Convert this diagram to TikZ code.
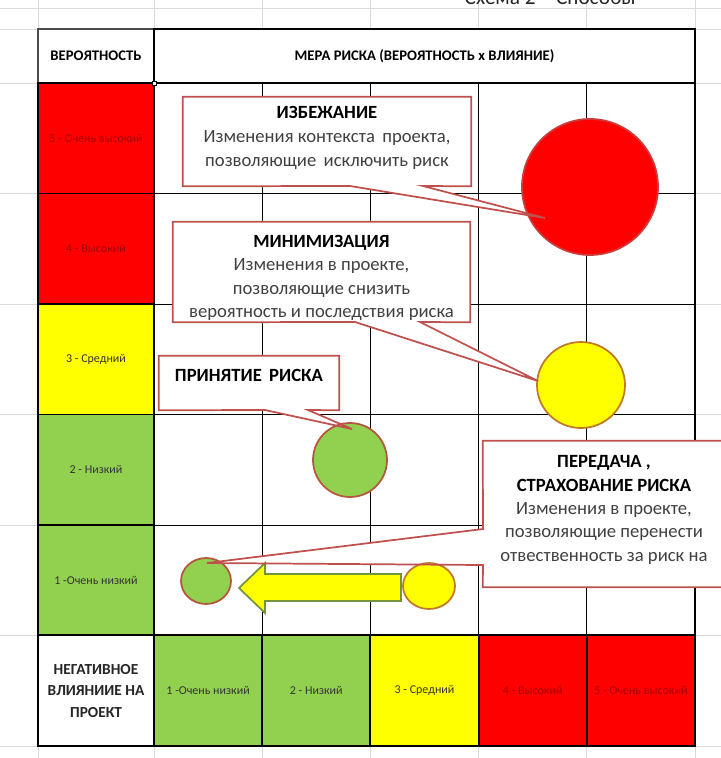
\documentclass[tikz,border=0pt]{standalone}
\usepackage{fontspec}
\setmainfont{Carlito}
\usetikzlibrary{shapes.geometric}

\definecolor{riskRed}{RGB}{255,0,0}
\definecolor{riskYellow}{RGB}{255,255,0}
\definecolor{riskGreen}{RGB}{146,208,80}
\definecolor{redText}{RGB}{165,0,0}
\definecolor{calloutEdge}{RGB}{192,80,77}
\definecolor{xlGray}{RGB}{218,218,218}
\definecolor{arrowEdge}{RGB}{118,146,60}
\definecolor{dotRedEdge}{RGB}{205,60,60}
\definecolor{dotYellowEdge}{RGB}{190,120,40}
\definecolor{dotGreenEdge}{RGB}{180,85,60}

\begin{document}
\begin{tikzpicture}[x=0.75pt,y=0.75pt,yscale=-1,xscale=1,
  xlline/.style={color=xlGray, line width=0.75},
  gridline/.style={color=black, line width=0.75},
  levelcell/.style={draw=black, line width=1.2, inner sep=0pt, minimum width=81.15pt, minimum height=82.9pt, align=center, font=\fontsize{9}{11}\selectfont, text=black!80},
  probcell/.style={levelcell, minimum width=87pt},
  headcell/.style={draw=black, inner sep=0pt, minimum height=40.5pt, align=center, font=\bfseries\fontsize{11}{13}\selectfont},
  callbox/.style={fill=white, inner sep=0pt},
  calltext/.style={align=center, text=black!75, font=\fontsize{14}{17.5}\selectfont},
  callline/.style={draw=calloutEdge, line width=1.3, line join=miter},
  riskdot/.style={ellipse, line width=1.3, inner sep=0pt},
]
\useasboundingbox (0,0) rectangle (721,758);
\fill[white] (0,0) rectangle (721,758);

%Straight Lines: sheet grid
\draw[xlline] (0,8) -- (721,8);
\draw[xlline] (38,0) -- (38,29);
\draw[xlline] (154,0) -- (154,29);
\draw[xlline] (262.2,0) -- (262.2,29);
\draw[xlline] (370.4,0) -- (370.4,29);
\draw[xlline] (478.6,0) -- (478.6,29);
\draw[xlline] (586.8,0) -- (586.8,29);
\draw[xlline] (695,0) -- (695,29);
\draw[xlline] (695,29) -- (721,29);
\draw[xlline] (695,83) -- (721,83);
\draw[xlline] (695,193.5) -- (721,193.5);
\draw[xlline] (695,304) -- (721,304);
\draw[xlline] (695,414.5) -- (721,414.5);
\draw[xlline] (695,525) -- (721,525);
\draw[xlline] (695,635.5) -- (721,635.5);
\draw[xlline] (695,746) -- (721,746);
\draw[xlline] (0,29) -- (38,29);
\draw[xlline] (0,83) -- (38,83);
\draw[xlline] (0,193.5) -- (38,193.5);
\draw[xlline] (0,304) -- (38,304);
\draw[xlline] (0,414.5) -- (38,414.5);
\draw[xlline] (0,525) -- (38,525);
\draw[xlline] (0,635.5) -- (38,635.5);
\draw[xlline] (0,746) -- (38,746);
\draw[xlline] (38,746) -- (38,758);
\draw[xlline] (154,746) -- (154,758);
\draw[xlline] (262.2,746) -- (262.2,758);
\draw[xlline] (370.4,746) -- (370.4,758);
\draw[xlline] (478.6,746) -- (478.6,758);
\draw[xlline] (586.8,746) -- (586.8,758);
\draw[xlline] (695,746) -- (695,758);

% Text Node: cut title
\node[anchor=base west, font=\fontsize{16}{18}\selectfont, text=black!85] (schemeTitle) at (460,4) {Схема 2 – Способы};

%Straight Lines: matrix grid
\draw[gridline] (262.2,83) -- (262.2,635.5);
\draw[gridline] (370.4,83) -- (370.4,635.5);
\draw[gridline] (478.6,83) -- (478.6,635.5);
\draw[gridline] (586.8,83) -- (586.8,635.5);
\draw[gridline] (154,193.5) -- (695,193.5);
\draw[gridline] (154,304) -- (695,304);
\draw[gridline] (154,414.5) -- (695,414.5);
\draw[gridline] (154,525) -- (695,525);

% Text Node
\node[headcell, minimum width=87pt, draw=black!70, line width=0.9] (probHead) at (96,56) {ВЕРОЯТНОСТЬ};
% Text Node
\node[headcell, minimum width=405.75pt, line width=1.5] (measureHead) at (424.5,56) {МЕРА РИСКА (ВЕРОЯТНОСТЬ x ВЛИЯНИЕ)};

% Text Node
\node[probcell, fill=riskRed, text=redText] (prob5) at (96,138.25) {5 - Очень высокий};
% Text Node
\node[probcell, fill=riskRed, text=redText] (prob4) at (96,248.75) {4 - Высокий};
% Text Node
\node[probcell, fill=riskYellow] (prob3) at (96,359.25) {3 - Средний};
% Text Node
\node[probcell, fill=riskGreen] (prob2) at (96,469.75) {2 - Низкий};
% Text Node
\node[probcell, fill=riskGreen] (prob1) at (96,580.25) {1 -Очень низкий};

% Text Node
\node[probcell, fill=white, line width=1.5, text=black!85, font=\bfseries\fontsize{11.5}{16}\selectfont] (impactHead) at (96,690.75) {НЕГАТИВНОЕ\\ВЛИЯНИИЕ НА\\ПРОЕКТ};
% Text Node
\node[levelcell, line width=1.5, fill=riskGreen] (impact1) at (208.1,690.75) {1 -Очень низкий};
% Text Node
\node[levelcell, line width=1.5, fill=riskGreen] (impact2) at (316.3,690.75) {2 - Низкий};
% Text Node
\node[levelcell, line width=1.5, fill=riskYellow] (impact3) at (424.5,690.75) {3 - Средний};
% Text Node
\node[levelcell, line width=1.5, fill=riskRed, text=redText] (impact4) at (532.7,690.75) {4 - Высокий};
% Text Node
\node[levelcell, line width=1.5, fill=riskRed, text=redText] (impact5) at (640.9,690.75) {5 - Очень высокий};

%Straight Lines: right border
\draw[line width=1.5] (695,29) -- (695,746);
%Shape: Rectangle (cell handle)
\draw[fill=white, line width=0.6] (152,81) rectangle (156,85);

% callout tips
\coordinate (avoidTip) at (545,218);
\coordinate (avoidL) at (350,186);
\coordinate (avoidR) at (423,186);
\coordinate (reduceTip) at (538,381);
\coordinate (reduceL) at (355,322);
\coordinate (reduceR) at (420,322);
\coordinate (acceptTip) at (352,429);
\coordinate (acceptL) at (265,410);
\coordinate (acceptR) at (308,410);
\coordinate (transferTip) at (207,563);
\coordinate (transferUp) at (483,529);
\coordinate (transferLo) at (483,565);

\fill[white] (avoidL) -- (avoidTip) -- (avoidR) -- cycle;
\fill[white] (reduceL) -- (reduceTip) -- (reduceR) -- cycle;
\fill[white] (acceptL) -- (acceptTip) -- (acceptR) -- cycle;
\fill[white] (transferUp) -- (transferTip) -- (transferLo) -- cycle;

%Shape: Circle
\node[riskdot, fill=riskRed, draw=dotRedEdge, minimum width=102pt, minimum height=102pt] (avoidDot) at (590,187) {};
%Shape: Ellipse
\node[riskdot, fill=riskYellow, draw=dotYellowEdge, minimum width=66pt, minimum height=64.5pt] (reduceDot) at (581,385) {};
%Shape: Circle
\node[riskdot, fill=riskGreen, draw=dotGreenEdge, minimum width=55.5pt, minimum height=55.5pt] (acceptDot) at (350,460) {};
%Shape: Ellipse
\node[riskdot, fill=riskGreen, draw=dotGreenEdge, minimum width=37.5pt, minimum height=34.5pt] (transferDot) at (206,581) {};
%Shape: Ellipse
\node[riskdot, fill=riskYellow, draw=dotYellowEdge, minimum width=39pt, minimum height=34.5pt] (sourceDot) at (429,586) {};

%Shape: Left Arrow
\draw[fill=riskYellow, draw=arrowEdge, line width=1.3, line join=miter] (239,588) -- (265,563) -- (265,574) -- (401,574) -- (401,601) -- (265,601) -- (265,613) -- cycle;

% Text Node
\node[callbox, minimum width=216pt, minimum height=66.75pt] (avoidBox) at (327,141.5) {};
\node[calltext, font=\fontsize{14}{18}\selectfont] (avoidText) at (327,138) {\textbf{\color{black}ИЗБЕЖАНИЕ}\\Изменения контекста\, проекта,\\позволяющие\, исключить риск};
\draw[callline] (avoidBox.south west) -- (avoidL) -- (avoidTip) -- (avoidR) -- (avoidBox.south east) -- (avoidBox.north east) -- (avoidBox.north west) -- cycle;

% Text Node
\node[callbox, minimum width=222.75pt, minimum height=75pt] (reduceBox) at (321.5,272) {};
\node[calltext] (reduceText) at (321.5,278) {\textbf{\color{black}МИНИМИЗАЦИЯ}\\Изменения в проекте,\\позволяющие снизить\\вероятность и последствия риска};
\draw[callline] (reduceBox.south west) -- (reduceL) -- (reduceTip) -- (reduceR) -- (reduceBox.south east) -- (reduceBox.north east) -- (reduceBox.north west) -- cycle;

% Text Node
\node[callbox, minimum width=135pt, minimum height=40.5pt] (acceptBox) at (249,383) {};
\node[font=\bfseries\fontsize{14}{18}\selectfont, text=black] (acceptText) at (249,375) {ПРИНЯТИЕ\, РИСКА};
\draw[callline] (acceptBox.south west) -- (acceptL) -- (acceptTip) -- (acceptR) -- (acceptBox.south east) -- (acceptBox.north east) -- (acceptBox.north west) -- cycle;

% Text Node
\node[callbox, minimum width=180.75pt, minimum height=109.5pt] (transferBox) at (603.5,514) {};
\node[calltext] (transferText) at (604,510) {\textbf{\color{black}ПЕРЕДАЧА ,}\\\textbf{\color{black}СТРАХОВАНИЕ РИСКА}\\Изменения в проекте,\\позволяющие перенести\\отвественность за риск на};
\draw[callline] (transferBox.north west) -- (transferBox.north east) -- (transferBox.south east) -- (transferBox.south west) -- (transferLo) -- (transferTip) -- (transferUp) -- cycle;

\end{tikzpicture}
\end{document}
